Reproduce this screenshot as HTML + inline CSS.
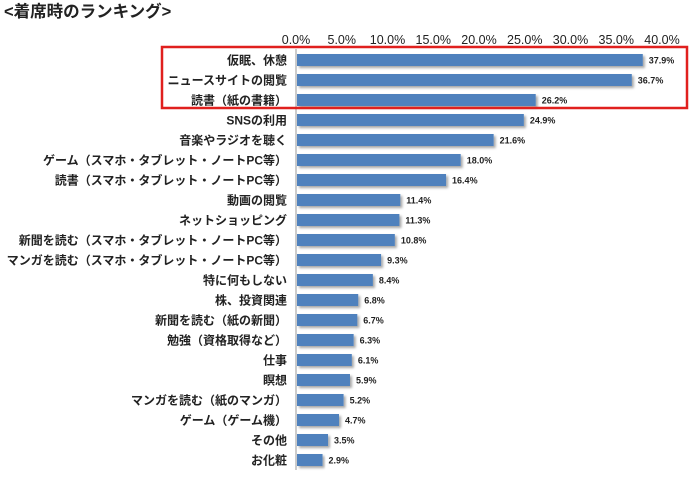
<!DOCTYPE html>
<html><head><meta charset="utf-8"><style>
body{margin:0;background:#fff;width:700px;height:476px;overflow:hidden;font-family:"Liberation Sans","Noto Sans CJK JP",sans-serif}
</style></head><body>
<svg width="700" height="476" id="chart" font-family="Liberation Sans, Noto Sans CJK JP, sans-serif">
<defs><filter id="sh" x="-5%" y="-30%" width="115%" height="180%"><feDropShadow dx="2" dy="2" stdDeviation="1.2" flood-color="#000" flood-opacity="0.35"/></filter></defs>
<text x="4" y="17" font-size="16.5" font-weight="bold" fill="#222">&lt;着席時のランキング&gt;</text>
<g id="ticks"></g><g id="bars"></g>
<rect x="162" y="47" width="525" height="61" fill="none" stroke="#e0201e" stroke-width="2.5"/>
</svg>
<script>
const categories=["仮眠、休憩","ニュースサイトの閲覧","読書（紙の書籍）","SNSの利用","音楽やラジオを聴く","ゲーム（スマホ・タブレット・ノートPC等）","読書（スマホ・タブレット・ノートPC等）","動画の閲覧","ネットショッピング","新聞を読む（スマホ・タブレット・ノートPC等）","マンガを読む（スマホ・タブレット・ノートPC等）","特に何もしない","株、投資関連","新聞を読む（紙の新聞）","勉強（資格取得など）","仕事","瞑想","マンガを読む（紙のマンガ）","ゲーム（ゲーム機）","その他","お化粧"];
const values=[37.9,36.7,26.2,24.9,21.6,18.0,16.4,11.4,11.3,10.8,9.3,8.4,6.8,6.7,6.3,6.1,5.9,5.2,4.7,3.5,2.9];
const tickValues=[0,5,10,15,20,25,30,35,40];
const NS="http://www.w3.org/2000/svg";
const x=v=>296+v*(366/40);
const y=i=>60+i*20;
function mk(t,a,p){const e=document.createElementNS(NS,t);for(const k in a)e.setAttribute(k,a[k]);p.appendChild(e);return e;}
const tg=document.getElementById('ticks'),bg=document.getElementById('bars');
tickValues.forEach(v=>{const t=mk('text',{x:x(v),y:44,'text-anchor':'middle','font-size':12.5,fill:'#222'},tg);t.textContent=v.toFixed(1)+'%';

});
const ax=mk('line',{x1:296,x2:296,y1:49,y2:470,stroke:'#999','stroke-width':1},tg);


categories.forEach((c,i)=>{
const l=mk('text',{x:287,y:y(i)+4.5,'text-anchor':'end','font-size':12,'font-weight':'bold',fill:'#222'},bg);l.textContent=c;


const r=mk('rect',{x:297,y:y(i)-6,width:x(values[i])-297,height:12,fill:'#4f81bd',filter:'url(#sh)'},bg);


const v=mk('text',{x:x(values[i])+6,y:y(i)+3.5,'font-size':9,'font-weight':'bold',fill:'#222'},bg);v.textContent=values[i].toFixed(1)+'%';


});
</script>
</body></html>
